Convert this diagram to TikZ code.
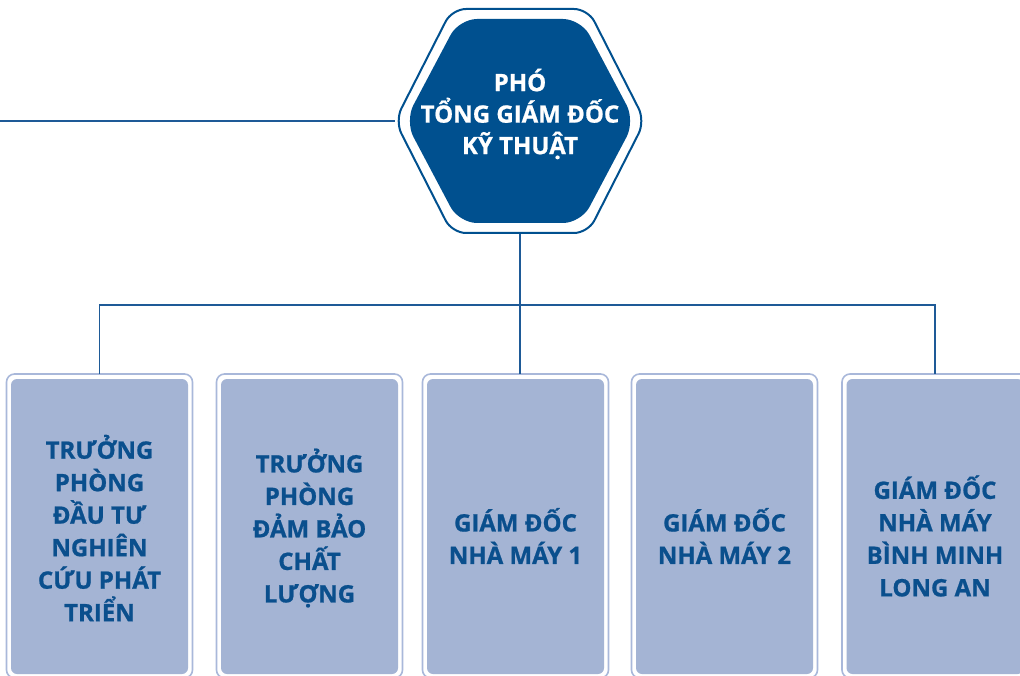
\documentclass[tikz,border=0pt]{standalone}
\usepackage{fontspec}
\setmainfont{Open Sans}[BoldFeatures={FakeBold=0.8}]
\definecolor{hexblue}{HTML}{00508F}
\definecolor{txtblue}{HTML}{0A4F8D}
\definecolor{boxfill}{HTML}{A4B4D4}
\definecolor{boxline}{HTML}{A9B8DA}
\definecolor{connblue}{HTML}{1E5A97}
\tikzset{
  conn/.style={draw=connblue, line width=1.6pt},
  outerbox/.style={draw=boxline, line width=1.6pt, fill=white, rounded corners=8pt,
    minimum width=186pt, minimum height=304pt, inner sep=0pt, outer sep=0pt},
  innerbox/.style={fill=boxfill, rounded corners=6pt,
    minimum width=177pt, minimum height=295pt, inner sep=0pt, outer sep=0pt},
  boxtext/.style={text=txtblue, font=\fontsize{24}{32.5}\selectfont\bfseries, align=center, inner sep=0pt},
  hextext/.style={text=white, font=\fontsize{24}{31.5}\selectfont\bfseries, align=center, inner sep=0pt}
}
\begin{document}
\begin{tikzpicture}[x=1pt,y=-1pt]
\useasboundingbox (0,0) rectangle (1020,676);
\begin{scope}
\clip (0,0) rectangle (1020,676);
% hexagon reference points
\coordinate (hexL) at (395,121);
\coordinate (hexB) at (520,233);
\coordinate (lend) at (0,121);
\coordinate (j) at (520,305);
% boxes
\foreach \i/\cx in {1/99.5,2/309.5,3/515.5,4/724.5,5/935} {
  \node[outerbox] (o\i) at (\cx,526) {};
  \node[innerbox] (b\i) at (\cx,526.5) {};
}
% connectors
\draw[conn] (lend) -- (hexL);
\draw[conn] (o1.north) |- (j) -| (o5.north);
\draw[conn] (hexB) -- (hexB |- o3.north);
% hexagon
\draw[draw=hexblue, line width=2pt, fill=white, rounded corners=14pt]
  (452,9) -- (588,9) -- (645,121) -- (588,233) -- (452,233) -- (395,121) -- cycle;
\fill[hexblue, rounded corners=18pt]
  (459,19) -- (581,19) -- (635,121) -- (581,223) -- (459,223) -- (405,121) -- cycle;
\node[hextext] (hex) at (520,114) {PHÓ\\TỔNG GIÁM ĐỐC\\KỸ THUẬT};
% box texts
\node[boxtext] (t1) at (99.5,528) {TRƯỞNG\\PHÒNG\\ĐẦU TƯ\\NGHIÊN\\CỨU PHÁT\\TRIỂN};
\node[boxtext] (t2) at (309.5,528) {TRƯỞNG\\PHÒNG\\ĐẢM BẢO\\CHẤT\\LƯỢNG};
\node[boxtext] (t3) at (515.5,536) {GIÁM ĐỐC\\NHÀ MÁY 1};
\node[boxtext] (t4) at (724.5,536) {GIÁM ĐỐC\\NHÀ MÁY 2};
\node[boxtext] (t5) at (935,536) {GIÁM ĐỐC\\NHÀ MÁY\\BÌNH MINH\\LONG AN};
\end{scope}
\end{tikzpicture}
\end{document}
